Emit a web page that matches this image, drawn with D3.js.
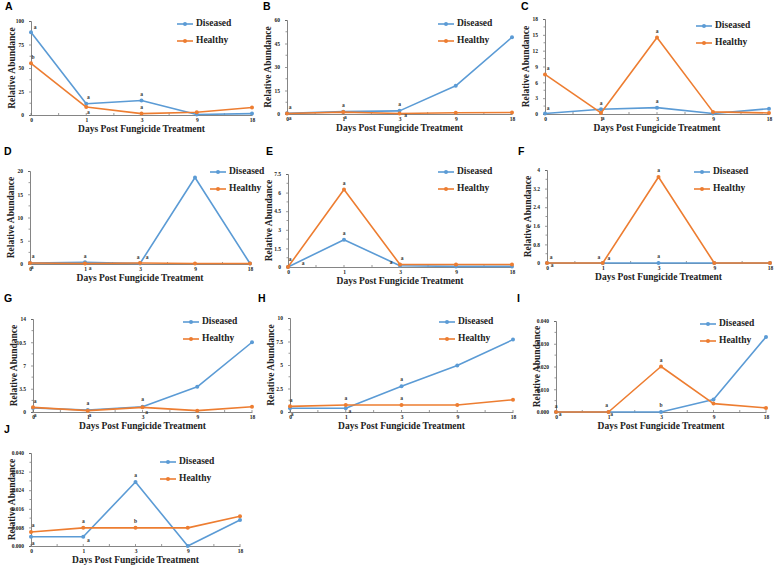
<!DOCTYPE html>
<html>
<head>
<meta charset="utf-8">
<script src="https://cdn.jsdelivr.net/npm/d3@7"></script>
<style>
  html, body { margin: 0; padding: 0; background: #fff; }
  svg { display: block; }
  .serif { font-family: "Liberation Serif", "DejaVu Serif", serif; font-weight: bold; }
  .sans { font-family: "Liberation Sans", Arial, sans-serif; font-weight: bold; }
</style>
</head>
<body>
<svg id="chart" width="774" height="568"></svg>
<script>
// ---------- DATA ----------
const days = ["0", "1", "3", "9", "18"];
const seriesNames = ["Diseased", "Healthy"];

const aDiseased = [88, 12, 15.5, 0.5, 1.5];
const aHealthy  = [55, 8.5, 1.5, 3, 8];
const aTicks = [0, 25, 50, 75, 100];

const bDiseased = [0.5, 1.5, 2, 18, 49];
const bHealthy  = [0.3, 1.2, 0.3, 0.8, 1.0];
const bTicks = [0, 15, 30, 45, 60];

const cDiseased = [0.1, 0.9, 1.2, 0.1, 1.0];
const cHealthy  = [7.5, 0.2, 14.5, 0.4, 0.2];
const cTicks = [0, 3, 6, 9, 12, 15, 18];

const dDiseased = [0.2, 0.35, 0.1, 18.6, 0.1];
const dHealthy  = [0.2, 0.1, 0.2, 0.1, 0.1];
const dTicks = [0, 5, 10, 15, 20];

const eDiseased = [0, 2.2, 0.1, 0.05, 0.05];
const eHealthy  = [0, 6.25, 0.2, 0.2, 0.2];
const eTicks = [0, 1.5, 3, 4.5, 6, 7.5];

const fDiseased = [0, 0, 0, 0, 0];
const fHealthy  = [0, 0, 3.7, 0, 0];
const fTicks = [0, 0.8, 1.6, 2.4, 3.2, 4];

const gDiseased = [0.6, 0.3, 0.8, 3.8, 10.5];
const gHealthy  = [0.7, 0.2, 0.7, 0.2, 0.8];
const gTicks = [0, 3.5, 7, 10.5, 14];

const hDiseased = [0.4, 0.4, 2.75, 4.95, 7.7];
const hHealthy  = [0.6, 0.75, 0.75, 0.75, 1.3];
const hTicks = [0, 2.5, 5, 7.5, 10];

const iDiseased = [0, 0, 0, 0.0055, 0.033];
const iHealthy  = [0, 0, 0.020, 0.0037, 0.0018];
const iTicks = [0, 0.010, 0.020, 0.030, 0.040];

const jDiseased = [0.004, 0.004, 0.0275, 0, 0.0112];
const jHealthy  = [0.006, 0.0078, 0.0078, 0.0078, 0.0128];
const jTicks = [0, 0.008, 0.016, 0.024, 0.032, 0.040];

// significance letters: [dayIndex, series(0=Diseased,1=Healthy), letter, dx, dy]
const aLetters = [[0,0,"a",4,-5],[0,1,"b",2,-6],[1,0,"a",2,-6],[1,1,"a",2,6],[2,0,"a",0,-6],[2,1,"a",0,-6]];
const bLetters = [[0,0,"a",3,-5],[0,1,"a",3,5],[1,0,"a",0,-6],[1,1,"a",2,6],[2,0,"a",0,-6],[2,1,"a",6,2]];
const cLetters = [[0,1,"a",3,-6],[0,0,"a",3,-5],[1,0,"a",0,-6],[1,1,"a",2,6],[2,1,"a",0,-6],[2,0,"a",0,-6]];
const dLetters = [[0,0,"a",3,-6],[0,1,"a",2,5],[1,0,"a",0,-6],[1,1,"a",5,5],[2,0,"a",-2,-6],[2,1,"a",7,-5]];
const eLetters = [[0,1,"a",2,-7],[0,0,"a",15,-3],[1,1,"a",0,-6],[1,0,"a",0,-6],[2,0,"a",-9,-3],[2,1,"a",2,-6]];
const fLetters = [[0,1,"a",4,-5],[0,0,"a",5,3],[1,1,"a",-4,-5],[1,0,"a",6,-4],[2,1,"a",0,-6],[2,0,"a",0,-6]];
const gLetters = [[0,1,"a",2,-6],[0,0,"a",2,8],[1,0,"a",0,-6],[1,1,"a",2,5],[2,0,"a",0,-7],[2,1,"a",4,5]];
const hLetters = [[0,1,"a",1,-6],[0,0,"a",2,6],[1,1,"a",0,-6],[1,0,"a",4,3],[2,0,"a",0,-6],[2,1,"a",0,-6]];
const iLetters = [[0,1,"a",0,-5],[0,0,"a",4,3],[1,1,"a",-2,-6],[1,0,"a",3,3],[2,1,"a",0,-6],[2,0,"b",0,-6]];
const jLetters = [[0,1,"a",2,-6],[0,0,"a",2,7],[1,1,"a",0,-6],[1,0,"a",5,4],[2,0,"a",0,-6],[2,1,"b",0,-6]];

// ---------- LAYOUT ----------
const panels = [
  {id:"A", d:aDiseased, h:aHealthy, ticks:aTicks, letters:aLetters, fmt:d3.format("d"),
   x0:31, x1:252, yTop:21, yBot:115, lx:177, ly:24, labX:5, labY:7},
  {id:"B", d:bDiseased, h:bHealthy, ticks:bTicks, letters:bLetters, fmt:d3.format("d"),
   x0:287, x1:512, yTop:20, yBot:114, lx:438, ly:24, labX:263, labY:7},
  {id:"C", d:cDiseased, h:cHealthy, ticks:cTicks, letters:cLetters, fmt:d3.format("d"),
   x0:545, x1:769, yTop:19, yBot:114, lx:696, ly:26, labX:521, labY:7},
  {id:"D", d:dDiseased, h:dHealthy, ticks:dTicks, letters:dLetters, fmt:d3.format("d"),
   x0:30, x1:250, yTop:171, yBot:264, lx:210, ly:172, labX:4, labY:152},
  {id:"E", d:eDiseased, h:eHealthy, ticks:eTicks, letters:eLetters, fmt:d3.format("~g"),
   x0:288, x1:512, yTop:174, yBot:267, lx:438, ly:172, labX:266, labY:152},
  {id:"F", d:fDiseased, h:fHealthy, ticks:fTicks, letters:fLetters, fmt:d3.format("~g"),
   x0:547, x1:770, yTop:170, yBot:263, lx:694, ly:172, labX:518, labY:152},
  {id:"G", d:gDiseased, h:gHealthy, ticks:gTicks, letters:gLetters, fmt:d3.format("~g"),
   x0:33, x1:252, yTop:319, yBot:412, lx:183, ly:322, labX:4, labY:299},
  {id:"H", d:hDiseased, h:hHealthy, ticks:hTicks, letters:hLetters, fmt:d3.format("~g"),
   x0:290, x1:513, yTop:318, yBot:412, lx:439, ly:322, labX:258, labY:299},
  {id:"I", d:iDiseased, h:iHealthy, ticks:iTicks, letters:iLetters, fmt:d3.format(".3f"),
   x0:556, x1:766, yTop:321, yBot:412, lx:700, ly:324, labX:517, labY:299},
  {id:"J", d:jDiseased, h:jHealthy, ticks:jTicks, letters:jLetters, fmt:d3.format(".3f"),
   x0:31, x1:240, yTop:453, yBot:546, lx:160, ly:462, labX:4, labY:430}
];

const colors = {Diseased:"#5B9BD5", Healthy:"#ED7D31"};
const svg = d3.select("#chart");

panels.forEach(p => {
  const g = svg.append("g");
  const x = d3.scalePoint().domain(days).range([p.x0, p.x1]);
  const y = d3.scaleLinear().domain([0, d3.max(p.ticks)]).range([p.yBot, p.yTop]);

  // panel label
  g.append("text").attr("class", "sans").attr("x", p.labX).attr("y", p.labY)
    .attr("dominant-baseline", "middle").style("font-size", "10.5px").text(p.id);

  // y axis
  const yAxis = g.append("g").attr("transform", `translate(${p.x0},0)`)
    .call(d3.axisLeft(y).tickValues(p.ticks).tickFormat(p.fmt).tickSize(2).tickPadding(5));
  const minorY = [];
  for (let i = 0; i < p.ticks.length - 1; i++) minorY.push((p.ticks[i] + p.ticks[i+1]) / 2);
  g.append("g").attr("transform", `translate(${p.x0},0)`)
    .selectAll("line").data(minorY).join("line")
    .attr("x1", 0).attr("x2", -1.5).attr("y1", d => y(d)).attr("y2", d => y(d))
    .attr("stroke", "#555").attr("stroke-width", 0.6);

  // x axis
  const xAxis = g.append("g").attr("transform", `translate(0,${p.yBot})`)
    .call(d3.axisBottom(x).tickSize(0).tickPadding(3.5));
  const minorX = [];
  days.forEach((dd, i) => {
    minorX.push(x(dd));
    if (i < days.length - 1) minorX.push((x(dd) + x(days[i+1])) / 2);
  });
  g.append("g").selectAll("line").data(minorX).join("line")
    .attr("x1", d => d).attr("x2", d => d).attr("y1", p.yBot).attr("y2", p.yBot - 2)
    .attr("stroke", "#555").attr("stroke-width", 0.6);

  [yAxis, xAxis].forEach(a => {
    a.select(".domain").attr("stroke", "#666").attr("stroke-width", 0.8);
    a.selectAll(".tick line").attr("stroke", "#555").attr("stroke-width", 0.6);
    a.selectAll(".tick text").attr("class", "serif").attr("font-family", null)
      .style("font-size", "5.5px").attr("fill", "#222");
  });

  // axis titles
  g.append("text").attr("class", "serif").attr("x", (p.x0 + p.x1) / 2).attr("y", p.yBot + 16.5)
    .attr("text-anchor", "middle").style("font-size", "9.5px").attr("fill", "#222")
    .text("Days Post Fungicide Treatment");
  g.append("text").attr("class", "serif")
    .attr("transform", `translate(${p.x0 - 16},${(p.yTop + p.yBot) / 2}) rotate(-90)`)
    .attr("text-anchor", "middle").style("font-size", "9.5px").attr("fill", "#222")
    .text("Relative Abundance");

  // lines + markers
  const line = d3.line().x((v, i) => x(days[i])).y(v => y(v));
  [["Diseased", p.d], ["Healthy", p.h]].forEach(([name, vals]) => {
    g.append("path").datum(vals).attr("d", line)
      .attr("fill", "none").attr("stroke", colors[name]).attr("stroke-width", 1.6)
      .attr("stroke-linejoin", "round");
    g.selectAll(null).data(vals).join("circle")
      .attr("cx", (v, i) => x(days[i])).attr("cy", v => y(v)).attr("r", 2)
      .attr("fill", colors[name]);
  });

  // significance letters
  g.selectAll(null).data(p.letters).join("text").attr("class", "serif")
    .attr("x", l => x(days[l[0]]) + l[3])
    .attr("y", l => y((l[1] === 0 ? p.d : p.h)[l[0]]) + l[4])
    .attr("text-anchor", "middle").attr("dominant-baseline", "middle")
    .style("font-size", "5.5px").attr("fill", "#333").text(l => l[2]);

  // legend
  seriesNames.forEach((name, i) => {
    const ly = p.ly + i * 17;
    g.append("line").attr("x1", p.lx).attr("x2", p.lx + 16).attr("y1", ly).attr("y2", ly)
      .attr("stroke", colors[name]).attr("stroke-width", 1.6);
    g.append("circle").attr("cx", p.lx + 8).attr("cy", ly).attr("r", 2).attr("fill", colors[name]);
    g.append("text").attr("class", "serif").attr("x", p.lx + 19).attr("y", ly)
      .attr("dominant-baseline", "middle").style("font-size", "9.5px")
      .attr("fill", "#222").text(name);
  });
});
</script>
</body>
</html>
